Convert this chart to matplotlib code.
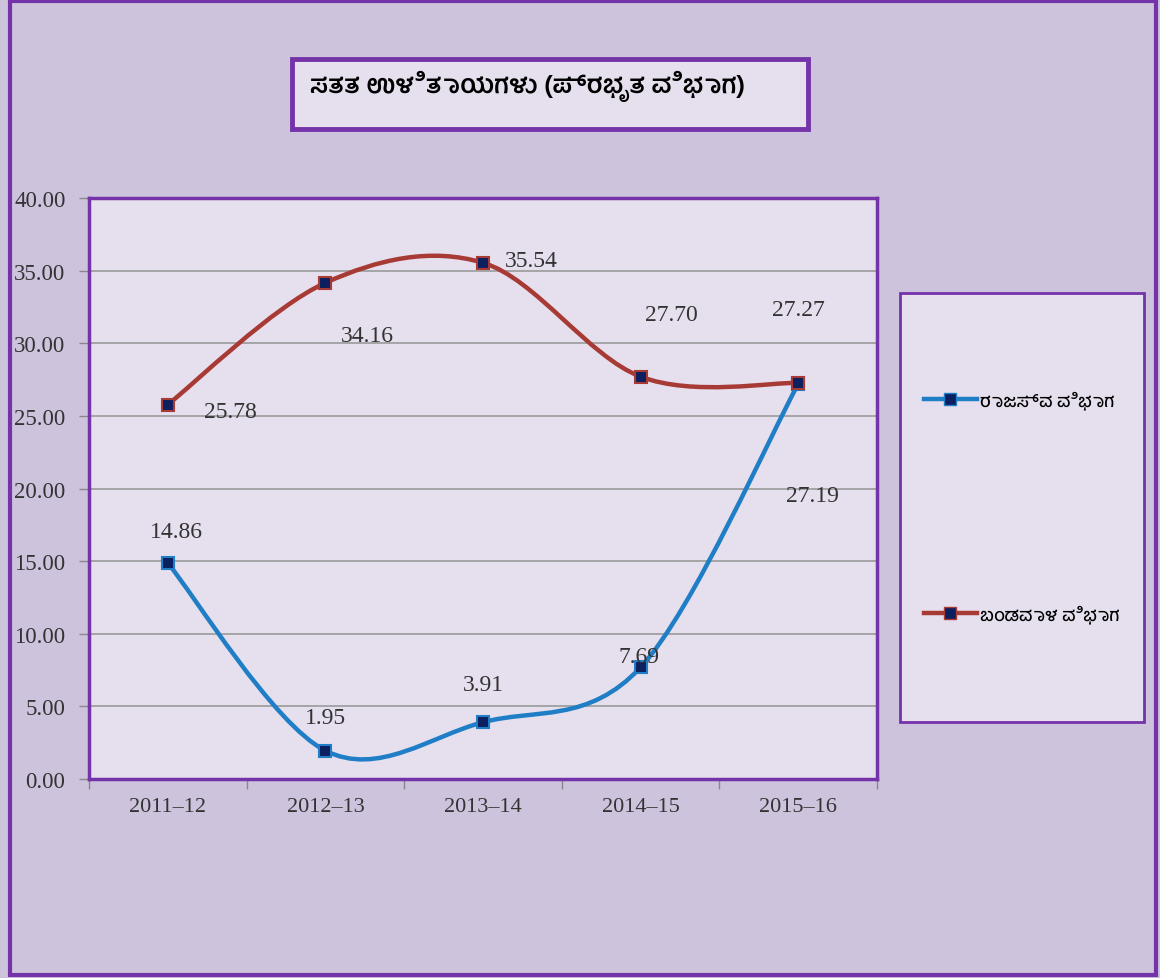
import numpy as np
import matplotlib
matplotlib.use("Agg")
import matplotlib.pyplot as plt
from matplotlib.path import Path
from matplotlib.patches import PathPatch, Rectangle
from matplotlib.lines import Line2D

# ---------------------------------------------------------------
# DATA
# ---------------------------------------------------------------
years = ["2011–12", "2012–13", "2013–14", "2014–15", "2015–16"]
revenue = [14.86, 1.95, 3.91, 7.69, 27.19]     # ರಾಜಸ್ವ ವಿಭಾಗ
capital = [25.78, 34.16, 35.54, 27.70, 27.27]  # ಬಂಡವಾಳ ವಿಭಾಗ

title = "ಸತತ ಉಳಿತಾಯಗಳು (ಪ್ರಭೃತ ವಿಭಾಗ)"
names = ["ರಾಜಸ್ವ ವಿಭಾಗ", "ಬಂಡವಾಳ ವಿಭಾಗ"]

# label offsets (points)
rev_off = [(6.5, 23), (0, 24), (0, 27), (-1, 8), (10, -80)]
cap_off = [(45, -5), (30, -38), (35, 2), (22, 45), (0, 53)]

BG = "#cdc3dd"
PANEL = "#e6dfed"
PURPLE = "#7433a8"
BLUE = "#1f7ec6"
RED = "#a83a36"
NAVY = "#0c1f5e"
TXT = "#333333"
SERIF = "Liberation Serif"
KN = ["Hind Mysuru", "Noto Sans Kannada", "DejaVu Sans"]

W, H = 1160, 979


def fx(px):
    return px / W


def fy(py):
    return 1 - py / H


def smooth_path(xs, ys):
    # catmull-rom style bezier, like Excel's smoothed line
    p = np.column_stack([xs, ys]).astype(float)
    n = len(p)
    verts = [p[0]]
    codes = [Path.MOVETO]
    for i in range(n - 1):
        p0 = p[max(i - 1, 0)]
        p1 = p[i]
        p2 = p[i + 1]
        p3 = p[min(i + 2, n - 1)]
        c1 = p1 + (p2 - p0) / 6
        c2 = p2 - (p3 - p1) / 6
        verts += [c1, c2, p2]
        codes += [Path.CURVE4] * 3
    return Path(verts, codes)


fig = plt.figure(figsize=(W / 100, H / 100), dpi=100)
fig.patch.set_facecolor(BG)

# outer frame
fig.patches.append(Rectangle((fx(10), fy(976)), fx(1146), 974 / H,
                             transform=fig.transFigure, fill=False,
                             edgecolor=PURPLE, linewidth=3))

# title box
fig.patches.append(Rectangle((fx(292), fy(130)), fx(516), 70 / H,
                             transform=fig.transFigure, facecolor=PANEL,
                             edgecolor=PURPLE, linewidth=3.5))
fig.text(fx(310), fy(86), title, fontsize=18.5, family=KN, color="black",
         ha="left", va="center", fontweight="semibold")

# legend box
fig.patches.append(Rectangle((fx(900), fy(723)), fx(244), 429 / H,
                             transform=fig.transFigure, facecolor=PANEL,
                             edgecolor=PURPLE, linewidth=2))

ax = fig.add_axes([fx(89), fy(780), fx(877 - 89), (780 - 199) / H])
ax.set_facecolor(PANEL)

x = np.arange(len(years))
ax.set_xlim(-0.5, len(years) - 0.5)
ax.set_ylim(0, 40)
ax.set_yticks(np.arange(0, 41, 5))
ax.set_yticklabels([f"{v:.2f}" for v in np.arange(0, 41, 5)])
ax.set_xticks(x)
ax.set_xticklabels(years)
ax.set_xticks(np.arange(-0.5, len(years), 1), minor=True)
ax.tick_params(axis="x", which="major", length=0, pad=13, labelsize=16,
               labelcolor=TXT)
ax.tick_params(axis="x", which="minor", length=7, color="#888888", width=1)
ax.tick_params(axis="y", length=7, color="#888888", width=1, pad=10,
               labelsize=16.5, labelcolor=TXT)
for lbl in ax.get_xticklabels() + ax.get_yticklabels():
    lbl.set_family(SERIF)

ax.yaxis.grid(True, color="#9a9a9a", linewidth=1.2)
ax.set_axisbelow(True)
for s in ax.spines.values():
    s.set_color(PURPLE)
    s.set_linewidth(2.5)

for ys, col, offs in [(revenue, BLUE, rev_off), (capital, RED, cap_off)]:
    ax.add_patch(PathPatch(smooth_path(x, ys), fill=False, edgecolor=col,
                           linewidth=3.2, capstyle="round", zorder=3))
    ax.plot(x, ys, linestyle="none", marker="s", markersize=9,
            markerfacecolor=NAVY, markeredgecolor=col, markeredgewidth=1.5,
            zorder=4, clip_on=False)
    for xi, yi, off in zip(x, ys, offs):
        ax.annotate(f"{yi:.2f}", (xi, yi), xytext=off,
                    textcoords="offset points", ha="center", va="center",
                    fontsize=17, family=SERIF, color=TXT, zorder=5)

handles = [Line2D([], [], color=BLUE, linewidth=3.2, marker="s", markersize=9,
                  markerfacecolor=NAVY, markeredgecolor=BLUE),
           Line2D([], [], color=RED, linewidth=3.2, marker="s", markersize=9,
                  markerfacecolor=NAVY, markeredgecolor=RED)]
leg = fig.legend(handles, names, loc="upper left",
                 bbox_to_anchor=(fx(908), fy(375)), frameon=False,
                 handlelength=2.9, handletextpad=0.2, labelspacing=10.8,
                 prop={"family": KN, "size": 13, "weight": "medium"})

fig.savefig("out.png", dpi=100, facecolor=BG)
